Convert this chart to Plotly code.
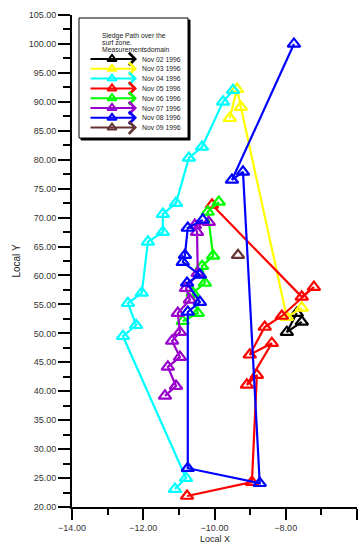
import plotly.graph_objects as go

# ---- data: sledge positions per survey day (local coordinates, m) ----
dates = ["Nov 02 1996", "Nov 03 1996", "Nov 04 1996", "Nov 05 1996",
         "Nov 06 1996", "Nov 07 1996", "Nov 08 1996", "Nov 09 1996"]
colors = ["#000000", "#ffff00", "#00ffff", "#ff0000",
          "#00ff00", "#9900cc", "#0000ff", "#663333"]

nov02_x = [-7.69, -7.97, -7.55]
nov02_y = [53.5, 50.2, 52.0]

nov03_x = [-9.57, -9.37, -9.26, -7.97, -7.55]
nov03_y = [87.2, 92.2, 89.1, 52.8, 54.4]

nov04_x = [-9.48, -9.76, -10.35, -10.72, -11.08, -11.45, -11.45, -11.87,
           -12.04, -12.43, -12.20, -12.57, -10.80, -11.11]
nov04_y = [92.0, 90.0, 82.2, 80.3, 72.5, 70.6, 67.5, 65.8,
           57.0, 55.2, 51.4, 49.5, 25.0, 23.1]

nov05_x = [-10.77, -8.95, -8.81, -9.09, -8.39, -9.01, -8.59, -8.11,
           -7.21, -7.55, -10.07]
nov05_y = [21.9, 24.3, 42.8, 41.1, 48.3, 46.3, 51.1, 53.0,
           58.0, 56.3, 72.2]

nov06_x = [-9.88, -10.19, -10.04, -10.35, -10.27, -10.61, -10.47, -10.89]
nov06_y = [72.7, 71.0, 63.4, 61.6, 58.7, 57.0, 53.5, 52.1]

nov07_x = [-10.16, -10.55, -10.49, -10.47, -10.80, -10.69, -11.03, -10.97,
           -11.19, -10.97, -11.31, -11.08, -11.39]
nov07_y = [69.2, 68.7, 67.5, 60.4, 57.8, 55.8, 53.5, 50.2,
           48.7, 45.9, 44.2, 40.9, 39.2]

nov08_x = [-10.33, -10.75, -10.83, -10.89, -10.41, -10.77, -10.41, -10.75,
           -10.75, -8.73, -9.20, -9.51, -7.77]
nov08_y = [69.6, 68.2, 63.5, 62.3, 60.1, 58.7, 55.4, 53.7,
           26.7, 24.1, 77.9, 76.5, 100.0]

nov09_x = [-9.34]
nov09_y = [63.5]

series_x = [nov02_x, nov03_x, nov04_x, nov05_x, nov06_x, nov07_x, nov08_x, nov09_x]
series_y = [nov02_y, nov03_y, nov04_y, nov05_y, nov06_y, nov07_y, nov08_y, nov09_y]

legend_title = ["Sledge Path over the", "surf zone.", "Measurementsdomain"]

FONT = "Liberation Sans, Arial, sans-serif"

fig = go.Figure()

for name, xs, ys, col in zip(dates, series_x, series_y, colors):
    fig.add_trace(go.Scatter(
        x=xs, y=ys, name=name, mode="lines+markers",
        line=dict(color=col, width=2.2),
        marker=dict(symbol="triangle-up-open", size=11, color=col,
                    line=dict(color=col, width=2.2)),
        showlegend=False,
    ))

# ---- hand-built legend box, placed in a pixel-space overlay ----
LEG_L, LEG_T, LEG_R, LEG_B = 79, 18, 188, 138
fig.add_shape(type="rect", xref="x2", yref="y2", layer="below",
              x0=LEG_L + 2, y0=LEG_T + 2, x1=LEG_R + 2, y1=LEG_B + 2,
              line=dict(color="black", width=1), fillcolor="black")
fig.add_shape(type="rect", xref="x2", yref="y2", layer="below",
              x0=LEG_L, y0=LEG_T, x1=LEG_R, y1=LEG_B,
              line=dict(color="black", width=1), fillcolor="white")

for i, line in enumerate(legend_title):
    fig.add_annotation(xref="x2", yref="y2", x=100, y=36 + i * 6.8,
                       text=line, showarrow=False, xanchor="left",
                       yanchor="middle",
                       font=dict(family=FONT, size=6.8, color="#222"))

row_y = [59 + i * 9.8 for i in range(len(dates))]
for name, col, yy in zip(dates, colors, row_y):
    fig.add_annotation(xref="x2", yref="y2", x=137, y=yy, ax=-48, ay=0,
                       text="", showarrow=True, arrowhead=4, arrowsize=1.2,
                       arrowwidth=2, arrowcolor=col)
    fig.add_annotation(xref="x2", yref="y2", x=140, y=yy, text=name,
                       showarrow=False, xanchor="left", yanchor="middle",
                       font=dict(family=FONT, size=6.8, color="#222"))

fig.add_trace(go.Scatter(
    x=[112] * len(dates), y=row_y, xaxis="x2", yaxis="y2", mode="markers",
    marker=dict(symbol="triangle-up-open", size=8, color=colors,
                line=dict(color=colors, width=2)),
    showlegend=False, hoverinfo="skip",
))

# x-axis title tucked right at the bottom edge of the page
fig.add_annotation(xref="paper", yref="paper", x=0.5, y=-0.0772,
                   text="Local X", showarrow=False, xanchor="center",
                   yanchor="bottom", borderpad=0,
                   font=dict(family=FONT, size=9, color="#222"))

axis_common = dict(
    showgrid=False, zeroline=False, showline=True, linecolor="black",
    linewidth=2, ticks="outside", tickcolor="black", tickwidth=2,
    tickformat=".2f", automargin=False,
    tickfont=dict(family=FONT, size=9, color="#333"),
)

fig.update_layout(
    width=362, height=545,
    margin=dict(l=72, r=5, t=15, b=38),
    paper_bgcolor="white", plot_bgcolor="white",
    showlegend=False,
    xaxis=dict(range=[-14, -6], dtick=2, tick0=-14, ticklen=11,
               ticklabelstandoff=0,
               minor=dict(dtick=1, ticklen=6, tickwidth=2, ticks="outside",
                          tickcolor="black"),
               **axis_common),
    yaxis=dict(range=[20, 105], dtick=5, tick0=20, ticklen=12,
               minor=dict(dtick=2.5, ticklen=7, tickwidth=2, ticks="outside",
                          tickcolor="black"),
               title=dict(text="Local Y", standoff=6,
                          font=dict(family=FONT, size=10, color="#222")),
               **axis_common),
    xaxis2=dict(range=[72, 357], overlaying="x", anchor="y2", visible=False),
    yaxis2=dict(range=[507, 15], overlaying="y", anchor="x2", visible=False),
)

fig.write_html("out.html")
